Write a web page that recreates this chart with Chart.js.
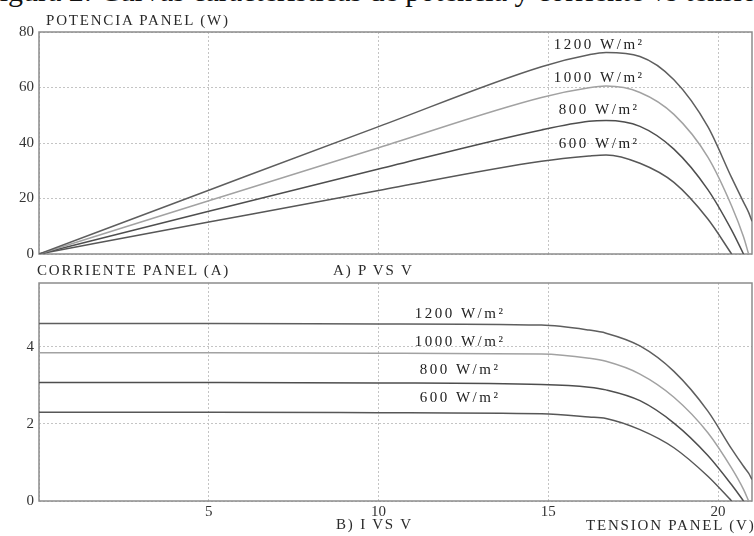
<!DOCTYPE html>
<html>
<head>
<meta charset="utf-8">
<script src="https://cdn.jsdelivr.net/npm/chart.js@4.4.1/dist/chart.umd.min.js"></script>
<style>
  body { margin: 0; width: 754px; height: 536px; overflow: hidden; position: relative; background: #fff; font-family: "Liberation Serif", serif; color: #222; }
  canvas { position: absolute; left: 0; }
  #graficoP { top: 0; }
  #graficoI { top: 262px; }
  .rotulo { position: absolute; white-space: nowrap; font-size: 15px; line-height: 16px; letter-spacing: 1.8px; color: #2a2a2a; }
  #titulo { position: absolute; left: -17px; top: -24px; font-size: 30px; line-height: 30px; white-space: nowrap; color: #111; }
</style>
</head>
<body>
<div id="titulo">Figura 2: Curvas características de potencia y corriente vs tensión</div>
<canvas id="graficoP" width="754" height="268"></canvas>
<canvas id="graficoI" width="754" height="274"></canvas>
<div class="rotulo" style="left:46px;top:12px">POTENCIA PANEL (W)</div>
<div class="rotulo" style="left:37px;top:262px">CORRIENTE PANEL (A)</div>
<div class="rotulo" style="left:333px;top:262px">A) P VS V</div>
<div class="rotulo" style="left:336px;top:516px">B) I VS V</div>
<div class="rotulo" style="left:586px;top:517px">TENSION PANEL (V)</div>
<script>
// tensión del panel (V), común a todas las curvas
const tension = [0, 5, 10, 14.8, 16.2, 16.7, 17.7, 18.7, 19.7, 20.4, 20.75, 20.9, 21];

// corriente (A) para cada irradiancia
const corriente1200 = [4.6, 4.6, 4.59, 4.56, 4.43, 4.35, 4.02, 3.36, 2.33, 1.35, 0.9, 0.72, 0.56];
const corriente1000 = [3.84, 3.84, 3.83, 3.81, 3.7, 3.62, 3.29, 2.69, 1.77, 0.85, 0.3, 0, null];
const corriente800 = [3.07, 3.07, 3.06, 3.02, 2.95, 2.88, 2.6, 2.02, 1.18, 0.42, 0, null, null];
const corriente600 = [2.3, 2.3, 2.29, 2.26, 2.18, 2.14, 1.85, 1.38, 0.64, 0, null, null, null];

// potencia (W) para cada irradiancia
const potencia1200 = [0, 23, 45.9, 67.5, 71.8, 72.6, 71.2, 62.8, 45.9, 27.5, 18.7, 15, 11.8];
const potencia1000 = [0, 19.2, 38.3, 56.4, 59.9, 60.5, 58.2, 50.3, 34.9, 17.3, 6.2, 0, null];
const potencia800 = [0, 15.4, 30.6, 44.7, 47.8, 48.1, 46, 37.8, 23.2, 8.6, 0, null, null];
const potencia600 = [0, 11.5, 22.9, 33.4, 35.3, 35.7, 32.7, 25.8, 12.6, 0, null, null, null];

const irradiancias = ["1200 W/m²", "1000 W/m²", "800 W/m²", "600 W/m²"];
const colores = ["#5e5e5e", "#a2a2a2", "#4e4e4e", "#575757"];

const fuente = { family: "Liberation Serif", size: 15 };

function serie(valores, i) {
  return {
    label: irradiancias[i],
    data: tension.map((v, k) => ({ x: v, y: valores[k] })),
    borderColor: colores[i],
    borderWidth: 1.5,
    pointRadius: 0,
    fill: false,
    cubicInterpolationMode: "monotone"
  };
}

// marco gris alrededor del área de trazado
const marco = {
  id: "marco",
  beforeDatasetsDraw(chart) {
    const { ctx, chartArea: a } = chart;
    ctx.save();
    ctx.strokeStyle = "#8c8c8c";
    ctx.lineWidth = 1.5;
    ctx.strokeRect(a.left, a.top, a.width, a.height);
    ctx.restore();
  }
};

// textos de irradiancia sobre cada curva
const etiquetas = {
  id: "etiquetas",
  afterDatasetsDraw(chart, args, opts) {
    const { ctx, scales: { x, y } } = chart;
    ctx.save();
    ctx.font = "15px 'Liberation Serif'";
    ctx.letterSpacing = "2.5px";
    ctx.fillStyle = "#222";
    ctx.textAlign = "center";
    ctx.textBaseline = "middle";
    opts.items.forEach(e => ctx.fillText(e.texto, x.getPixelForValue(e.x), y.getPixelForValue(e.y)));
    ctx.restore();
  }
};

function opciones(cfg) {
  return {
    responsive: false,
    animation: false,
    layout: { padding: cfg.padding },
    plugins: {
      legend: { display: false },
      tooltip: { enabled: false },
      etiquetas: { items: cfg.etiquetas }
    },
    scales: {
      x: {
        type: "linear",
        min: 0, max: 21,
        afterFit(s) { s.height = cfg.altoX; },
        grid: { color: "#c4c4c4", drawTicks: false },
        border: { display: false, dash: [2, 2] },
        ticks: {
          display: cfg.ticksX,
          stepSize: 5,
          includeBounds: false,
          padding: 2,
          color: "#333",
          font: fuente,
          callback: v => (v === 0 ? "" : v)
        }
      },
      y: {
        min: 0, max: cfg.maxY,
        afterFit(s) { s.width = 39; },
        grid: { color: "#c4c4c4", drawTicks: false },
        border: { display: false, dash: [2, 2] },
        ticks: { stepSize: cfg.pasoY, includeBounds: false, padding: 5, color: "#333", font: fuente }
      }
    }
  };
}

// Gráfica A) P vs V
new Chart(document.getElementById("graficoP"), {
  type: "line",
  data: { datasets: [potencia1200, potencia1000, potencia800, potencia600].map(serie) },
  options: opciones({
    padding: { top: 32, right: 2, bottom: 0, left: 0 },
    altoX: 12, ticksX: false, maxY: 80, pasoY: 20,
    etiquetas: [
      { texto: irradiancias[0], x: 16.5, y: 75.4 },
      { texto: irradiancias[1], x: 16.5, y: 63.3 },
      { texto: irradiancias[2], x: 16.5, y: 51.8 },
      { texto: irradiancias[3], x: 16.5, y: 39.6 }
    ]
  }),
  plugins: [marco, etiquetas]
});

// Gráfica B) I vs V
new Chart(document.getElementById("graficoI"), {
  type: "line",
  data: { datasets: [corriente1200, corriente1000, corriente800, corriente600].map(serie) },
  options: opciones({
    padding: { top: 21, right: 2, bottom: 0, left: 0 },
    altoX: 35, ticksX: true, maxY: 5.65, pasoY: 2,
    etiquetas: [
      { texto: irradiancias[0], x: 12.4, y: 4.84 },
      { texto: irradiancias[1], x: 12.4, y: 4.12 },
      { texto: irradiancias[2], x: 12.4, y: 3.39 },
      { texto: irradiancias[3], x: 12.4, y: 2.66 }
    ]
  }),
  plugins: [marco, etiquetas]
});
</script>
</body>
</html>
